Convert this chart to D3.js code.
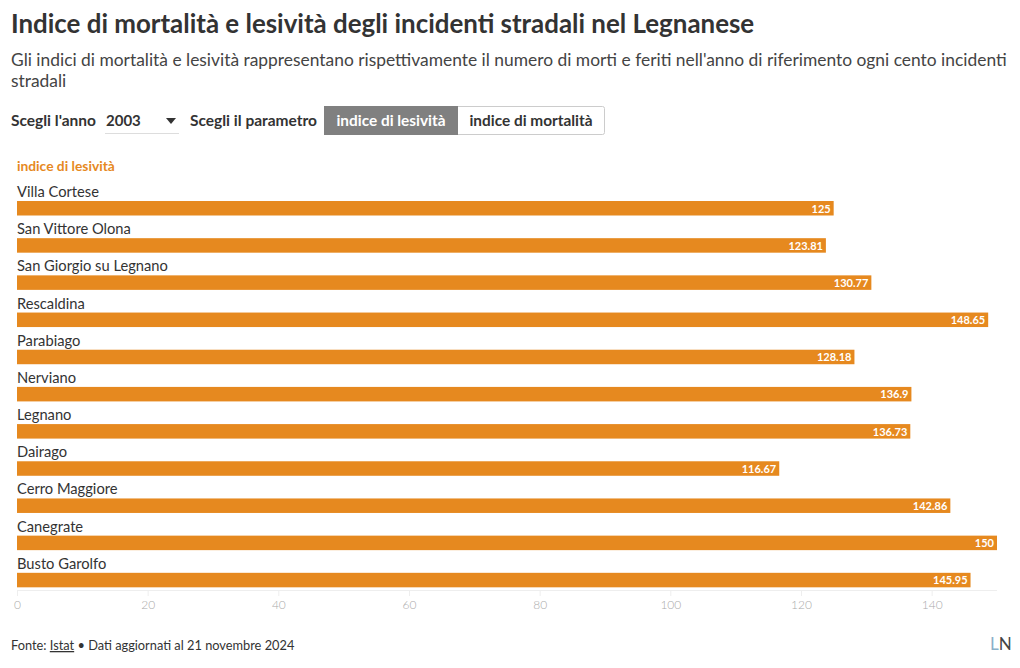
<!DOCTYPE html>
<html><head><meta charset="utf-8">
<script src="https://cdn.jsdelivr.net/npm/d3@7"></script>
<style>
body{margin:0;background:#fff;font-family:Lato,"Noto Sans",sans-serif;}
svg text{font-family:Lato,"Noto Sans",sans-serif;}
</style></head>
<body>
<svg id="chart" width="1020" height="668"></svg>
<script>
const categories = ["Villa Cortese","San Vittore Olona","San Giorgio su Legnano","Rescaldina","Parabiago","Nerviano","Legnano","Dairago","Cerro Maggiore","Canegrate","Busto Garolfo"];
const values = [125,123.81,130.77,148.65,128.18,136.9,136.73,116.67,142.86,150,145.95];
const valueLabels = ["125","123.81","130.77","148.65","128.18","136.9","136.73","116.67","142.86","150","145.95"];
const tickValues = [0,20,40,60,80,100,120,140];

const svg = d3.select("#chart");
const orange = "#e6891f";

svg.append("text").attr("x",11).attr("y",33).attr("font-size",25.9).attr("font-weight",700).attr("fill","#333")
  .text("Indice di mortalità e lesività degli incidenti stradali nel Legnanese");
svg.append("text").attr("x",11).attr("y",66).attr("font-size",17.4).attr("fill","#444")
  .text("Gli indici di mortalità e lesività rappresentano rispettivamente il numero di morti e feriti nell'anno di riferimento ogni cento incidenti");
svg.append("text").attr("x",11).attr("y",87).attr("font-size",17.4).attr("fill","#444").text("stradali");

// controls
svg.append("text").attr("x",11).attr("y",126).attr("font-size",15.5).attr("font-weight",700).attr("fill","#333").text("Scegli l'anno");
svg.append("text").attr("x",106).attr("y",126).attr("font-size",15).attr("font-weight",700).attr("fill","#333").text("2003");
svg.append("path").attr("d","M166,118 L176,118 L171,124 Z").attr("fill","#333");
svg.append("line").attr("x1",105).attr("x2",179).attr("y1",133.5).attr("y2",133.5).attr("stroke","#ddd");
svg.append("text").attr("x",190).attr("y",126).attr("font-size",15.5).attr("font-weight",700).attr("fill","#333").text("Scegli il parametro");
svg.append("rect").attr("x",324.5).attr("y",106.5).attr("width",280).attr("height",28).attr("rx",2).attr("fill","#fff").attr("stroke","#ccc");
svg.append("rect").attr("x",324.5).attr("y",106.5).attr("width",133).attr("height",28).attr("fill","#808080").attr("stroke","#808080");
svg.append("text").attr("x",391).attr("y",126).attr("text-anchor","middle").attr("font-size",15.4).attr("font-weight",700).attr("fill","#fff").text("indice di lesività");
svg.append("text").attr("x",531).attr("y",126).attr("text-anchor","middle").attr("font-size",15.4).attr("font-weight",700).attr("fill","#333").text("indice di mortalità");

svg.append("text").attr("x",17).attr("y",171).attr("font-size",13.8).attr("font-weight",700).attr("fill",orange).text("indice di lesività");

const x = d3.scaleLinear().domain([0,150]).range([17,997]);
const y = d3.scaleBand().domain(categories).range([183,592]).paddingInner(0);

const g = svg.append("g");
const rows = g.selectAll("g.row").data(categories).join("g").attr("class","row")
  .attr("transform",d=>`translate(0,${y(d)})`);
rows.append("text").attr("x",17).attr("y",14).attr("font-size",14.7).attr("fill","#333").text(d=>d);
rows.append("rect").attr("x",x(0)).attr("y",18).attr("height",14.5)
  .attr("width",(d,i)=>x(values[i])-x(0)).attr("fill",orange);
rows.append("text").attr("x",(d,i)=>x(values[i])-3).attr("y",29.5).attr("text-anchor","end")
  .attr("font-size",11).attr("font-weight",700).attr("fill","#fff").text((d,i)=>valueLabels[i]);

// axis
const axis = svg.append("g").attr("transform","translate(0,590)")
  .call(d3.axisBottom(x).tickValues(tickValues).tickSize(6).tickPadding(4).tickFormat(d3.format("d")));
axis.select(".domain").attr("stroke","#eee").attr("d","M17,0.5H997");
axis.selectAll(".tick line").attr("stroke","#eee");
axis.selectAll(".tick text").attr("fill","#aaa").attr("font-size",12).attr("font-weight",300).attr("font-family","Lato,sans-serif");

// footer
const f = svg.append("text").attr("x",11).attr("y",650).attr("font-size",12.8).attr("fill","#333");
f.append("tspan").text("Fonte: ");
f.append("tspan").attr("text-decoration","underline").text("Istat");
f.append("tspan").text(" • Dati aggiornati al 21 novembre 2024");
const ln = svg.append("text").attr("x",990).attr("y",650).attr("font-size",17).attr("fill","#555");
ln.append("tspan").attr("fill","#8ab0c8").text("L");
ln.append("tspan").attr("fill","#444").text("N");
</script>
</body></html>
